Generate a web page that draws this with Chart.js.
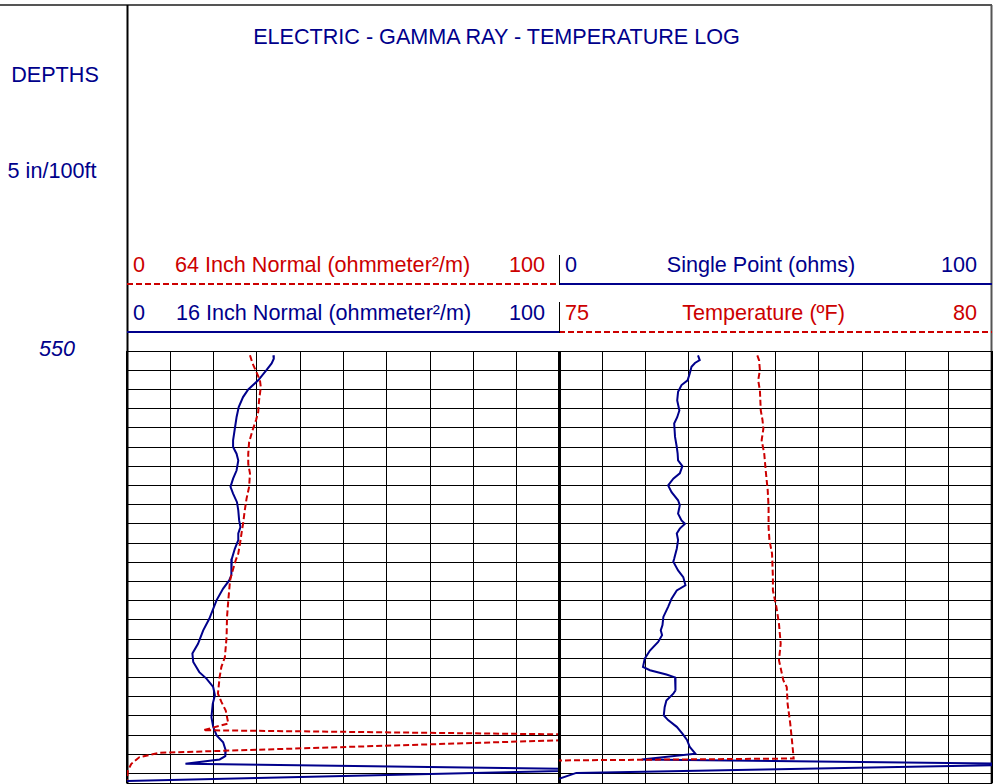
<!DOCTYPE html>
<html>
<head>
<meta charset="utf-8">
<script src="https://cdn.jsdelivr.net/npm/chart.js@4.4.0/dist/chart.umd.min.js"></script>
<style>
body { margin:0; width:996px; height:784px; overflow:hidden; background:#fff; position:relative;
  font-family: Arial, "Liberation Sans", sans-serif; }
.t { position:absolute; font-size:21.6px; line-height:24px; white-space:nowrap; }
.navy { color:#00008B; }
.red { color:#CC0000; }
canvas { position:absolute; }
svg { position:absolute; left:0; top:0; }
</style>
</head>
<body>
<svg width="996" height="784">
  <line x1="0" y1="5" x2="992" y2="5" stroke="#555" stroke-width="2"/>
  <line x1="127.5" y1="5" x2="127.5" y2="784" stroke="#000" stroke-width="2"/>
  <line x1="991.5" y1="5" x2="991.5" y2="784" stroke="#555" stroke-width="2"/>
  <line x1="127" y1="284" x2="559" y2="284" stroke="#CC0000" stroke-width="2" stroke-dasharray="6 3"/>
  <line x1="559" y1="284" x2="992" y2="284" stroke="#00008B" stroke-width="2"/>
  <line x1="127" y1="332" x2="559" y2="332" stroke="#00008B" stroke-width="2"/>
  <line x1="559" y1="332" x2="992" y2="332" stroke="#CC0000" stroke-width="2" stroke-dasharray="6 3"/>
  <line x1="559.5" y1="255" x2="559.5" y2="285" stroke="#000" stroke-width="1"/>
  <line x1="559.5" y1="302" x2="559.5" y2="333" stroke="#000" stroke-width="1"/>
</svg>

<div class="t navy" style="left:0;width:993px;text-align:center;top:25px">ELECTRIC - GAMMA RAY - TEMPERATURE LOG</div>
<div class="t navy" style="left:0;width:110px;text-align:center;top:63px">DEPTHS</div>
<div class="t navy" style="left:0;width:104px;text-align:center;top:159px">5 in/100ft</div>
<div class="t navy" style="left:0;width:114px;text-align:center;top:337px;font-style:italic">550</div>

<div class="t red" style="left:133px;top:253px">0</div>
<div class="t red" style="left:175px;top:253px">64 Inch Normal (ohmmeter²/m)</div>
<div class="t red" style="right:451px;top:253px">100</div>
<div class="t navy" style="left:133px;top:301px">0</div>
<div class="t navy" style="left:176px;top:301px">16 Inch Normal (ohmmeter²/m)</div>
<div class="t navy" style="right:451px;top:301px">100</div>

<div class="t navy" style="left:565px;top:253px">0</div>
<div class="t navy" style="left:560px;width:402px;text-align:center;top:253px">Single Point (ohms)</div>
<div class="t navy" style="right:19px;top:253px">100</div>
<div class="t red" style="left:565px;top:301px">75</div>
<div class="t red" style="left:560px;width:407px;text-align:center;top:301px">Temperature (ºF)</div>
<div class="t red" style="right:19px;top:301px">80</div>

<canvas id="leftTrack" width="439" height="438" style="left:124px;top:348px"></canvas>
<canvas id="rightTrack" width="439" height="438" style="left:556px;top:348px"></canvas>

<script>
// depths in ft, values
const depth16 = [550.9, 551.6, 552.6, 554.0, 556.1, 558.0, 559.6, 561.7, 563.8, 566.2, 568.6, 570.0, 571.4, 572.8, 574.9, 576.6, 578.3, 579.7, 581.5, 583.2, 585.3, 586.7, 588.0, 589.4, 591.2, 593.3, 596.7, 597.8, 599.5, 601.9, 605.8, 608.2, 611.0, 613.0, 614.8, 616.9, 618.3, 620.0, 621.7, 623.5, 626.3, 628.3, 630.1, 631.5, 633.2, 634.4, 635.1, 636.0, 637.2, 639.6]
const ohm16 = [33.8, 33.9, 33.4, 32.2, 30.3, 28.0, 26.8, 25.8, 25.3, 24.9, 24.5, 24.5, 25.3, 25.7, 25.3, 24.5, 23.9, 24.5, 25.4, 25.7, 25.9, 26.2, 25.7, 25.7, 24.9, 24.2, 24.1, 23.6, 22.2, 20.7, 19.0, 17.6, 16.4, 15.1, 15.3, 16.7, 18.4, 19.9, 20.3, 19.8, 19.5, 19.9, 20.7, 22.2, 22.8, 22.7, 21.4, 13.5, 115, 0]

const depth64 = [550.9, 552.6, 554.4, 556.1, 557.5, 560.3, 562.7, 564.4, 566.5, 569.0, 571.4, 573.5, 575.5, 578.3, 580.8, 583.2, 586.0, 587.7, 590.1, 592.2, 593.6, 596.7, 597.8, 601.9, 605.4, 609.6, 613.8, 615.8, 617.9, 621.4, 623.1, 624.9, 627.6, 629.0, 630.2, 633.7, 634.6, 636.0, 637.4, 639.4]
const ohm64 = [28.4, 29.0, 29.9, 30.7, 30.9, 30.5, 30.3, 29.8, 29.0, 28.2, 28.0, 28.0, 28.4, 28.2, 27.6, 27.2, 26.8, 26.5, 26.1, 25.7, 25.1, 24.1, 23.8, 23.4, 23.1, 23.0, 22.6, 21.8, 21.4, 21.0, 21.8, 22.8, 23.4, 17.6, 132, 7.6, 2.9, 1.0, 0.2, 0]

const depthSP = [550.9, 551.9, 552.5, 553.3, 554.7, 556.1, 557.1, 558.5, 560.3, 562.4, 563.8, 565.1, 567.9, 570.0, 571.4, 572.8, 574.0, 575.5, 576.6, 578.0, 579.4, 581.1, 582.1, 583.9, 585.3, 586.0, 587.0, 588.0, 589.4, 591.2, 593.3, 593.9, 595.7, 597.1, 598.8, 599.9, 601.6, 603.3, 605.4, 607.1, 608.2, 609.2, 610.6, 612.4, 614.1, 615.8, 616.5, 617.4, 618.0, 620.7, 621.4, 622.8, 624.2, 625.9, 626.9, 628.3, 629.7, 631.1, 632.5, 633.9, 635.1, 636.1, 637.9, 639.1]
const ohmSP = [32.1, 32.5, 31.4, 30.6, 30.2, 29.7, 28.3, 27.5, 27.3, 27.8, 27.3, 26.6, 26.8, 27.2, 27.4, 27.5, 28.5, 27.9, 26.4, 25.2, 26.0, 27.5, 27.9, 27.5, 28.3, 29.1, 27.9, 27.2, 27.5, 27.2, 26.6, 26.4, 27.5, 28.7, 29.2, 27.2, 26.0, 25.2, 24.1, 23.9, 23.5, 23.8, 22.9, 21.0, 19.8, 19.4, 21.0, 24.8, 26.8, 26.9, 26.4, 24.8, 24.4, 24.2, 25.2, 27.2, 28.5, 29.6, 30.2, 31.5, 19.1, 113, 4.0, 0]

const depthTemp = [550.9, 551.9, 554.0, 556.1, 558.2, 562.4, 564.4, 566.2, 568.6, 571.4, 575.5, 579.0, 582.5, 586.7, 589.4, 592.2, 597.1, 599.9, 603.3, 606.8, 611.0, 614.4, 618.6, 620.0, 623.5, 627.6, 631.1, 634.9, 635.3, 635.4]
const tempF = [77.29, 77.31, 77.32, 77.30, 77.32, 77.33, 77.35, 77.36, 77.34, 77.37, 77.39, 77.41, 77.42, 77.42, 77.43, 77.46, 77.47, 77.47, 77.51, 77.54, 77.56, 77.54, 77.59, 77.63, 77.64, 77.67, 77.69, 77.71, 75.0, 74.0]

const topDepth = 550
const bottomDepth = 640
const rowFeet = 4

const navy = '#00008B'
const red = '#CC0000'

function toPoints(vals, depths) {
   return vals.map((v, i) => ({ x: v, y: depths[i] }))
}

function curve(vals, depths, color, dashed, axis) {
   return {
      data: toPoints(vals, depths),
      showLine: true,
      borderColor: color,
      borderWidth: 2,
      borderDash: dashed ? [6, 3] : [],
      pointRadius: 0,
      tension: 0,
      clip: 0,
      xAxisID: axis || 'x'
   }
}

function depthAxis() {
   return {
      type: 'linear',
      min: topDepth,
      max: bottomDepth,
      reverse: true,
      border: { display: false },
      ticks: { display: false },
      grid: { color: '#000', lineWidth: 1, drawTicks: false },
      afterBuildTicks: scale => {
         const t = []
         for (let d = topDepth; d <= bottomDepth; d += rowFeet) t.push({ value: d })
         t.push({ value: bottomDepth })
         scale.ticks = t
      }
   }
}

function valueAxis() {
   return {
      type: 'linear',
      min: 0,
      max: 100,
      border: { display: false },
      ticks: { display: false, stepSize: 10 },
      grid: {
         color: '#000',
         drawTicks: false,
         lineWidth: c => (c.tick && (c.tick.value === 0 || c.tick.value === 100)) ? 2 : 1
      }
   }
}

const baseOptions = {
   responsive: false,
   animation: false,
   layout: { padding: 3 },
   plugins: { legend: { display: false }, tooltip: { enabled: false } },
   events: []
}

new Chart(document.getElementById('leftTrack'), {
   type: 'scatter',
   data: {
      datasets: [
         curve(ohm64, depth64, red, true),
         curve(ohm16, depth16, navy, false)
      ]
   },
   options: Object.assign({}, baseOptions, {
      scales: { x: valueAxis(), y: depthAxis() }
   })
})

new Chart(document.getElementById('rightTrack'), {
   type: 'scatter',
   data: {
      datasets: [
         curve(tempF, depthTemp, red, true, 'xT'),
         curve(ohmSP, depthSP, navy, false)
      ]
   },
   options: Object.assign({}, baseOptions, {
      scales: {
         x: valueAxis(),
         xT: { type: 'linear', axis: 'x', min: 75, max: 80, display: false },
         y: depthAxis()
      }
   })
})
</script>
</body>
</html>
